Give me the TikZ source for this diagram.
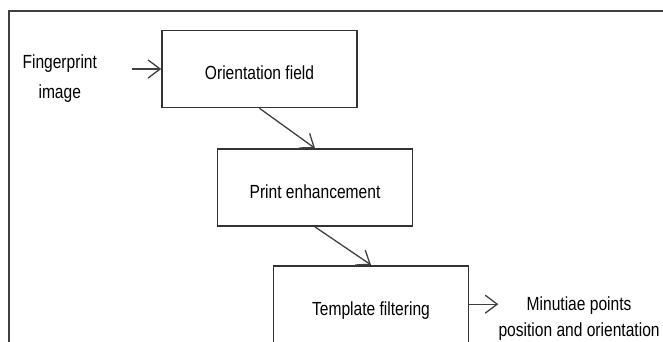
\documentclass[tikz,border=0pt]{standalone}
\usepackage{fontspec}
\setmainfont{Liberation Sans}[FakeStretch=0.82]
\usetikzlibrary{arrows.meta, positioning}

\begin{document}
\begin{tikzpicture}[
    x=1pt, y=-1pt,
    font=\fontsize{19}{30}\selectfont,
    box/.style={rectangle, draw=black!80, line width=1.6pt, minimum width=195pt,
                minimum height=77pt, inner sep=0pt, align=center,
                text height=22pt, text depth=0pt},
    lbl/.style={inner sep=0pt, align=center},
    arr/.style={-{Straight Barb[length=12pt, width=18pt]}, line width=1.3pt, black!75},
  ]
  \clip (0,0) rectangle (663,342);
  \draw[line width=1.6pt, black!75] (9,11) rectangle (700,380);
  \node[box] (orient) at (259.5,69) {Orientation field};
  \node[box, below=40pt of orient, xshift=55.5pt] (enhance) {Print enhancement};
  \node[box, below=38pt of enhance, xshift=56pt] (template) {Template filtering};
  \node[lbl, left=64pt of orient, yshift=-10pt] (fpimg) {Fingerprint\\image};
  \node[lbl, right=29pt of template, yshift=-14.5pt,
        font=\fontsize{19}{26}\selectfont] (minutiae) {Minutiae points\\position and orientation};
  \draw[arr, shorten <=35pt] (fpimg.east |- orient.west) -- (orient.west);
  \draw[arr] (orient.south) -- (enhance.north);
  \draw[arr] (enhance.south) -- (template.north);
  \draw[arr] (template.east) -- (template.east -| minutiae.west);
\end{tikzpicture}
\end{document}
